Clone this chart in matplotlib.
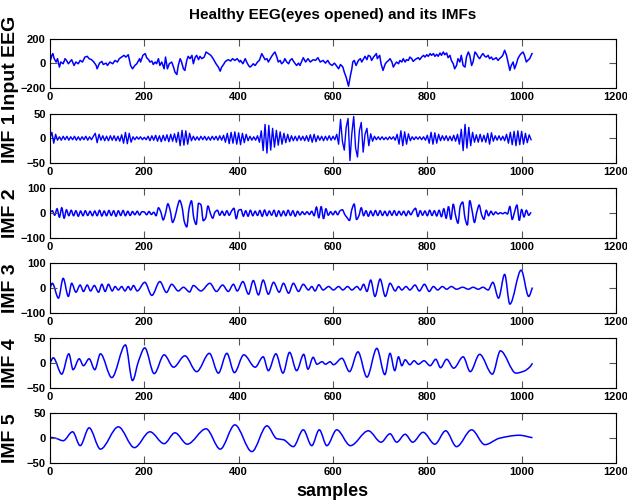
import numpy as np
import matplotlib
matplotlib.use("Agg")
import matplotlib.pyplot as plt
from matplotlib.path import Path
from matplotlib.patches import PathPatch

plt.rcParams['font.family'] = ['Liberation Sans', 'DejaVu Sans']
plt.rcParams['font.weight'] = 'bold'

# input EEG, (sample, amplitude)
eeg_points = [
    (0, 10), (4, 64), (6, 78), (9, 37), (13, 10), (16, 37), (20, -31), (23, 10), (28, -4), (32, 37),
    (35, 23), (39, -4), (42, 10), (46, 29), (51, -18), (55, 10), (60, -4), (64, 23), (69, 10), (74, 50),
    (79, 56), (83, 37), (88, 29), (93, 10), (98, -18), (100, -45), (105, 1), (110, 15), (113, -10), (119, 1),
    (122, -18), (127, 10), (133, -4), (138, 23), (143, 10), (147, 37), (152, 50), (157, 64), (161, 50), (166, 69),
    (171, -18), (175, -45), (180, -18), (184, -4), (190, 37), (192, 10), (197, 64), (202, 78), (205, 45), (209, 29),
    (212, 10), (216, 18), (219, -10), (223, 10), (226, -4), (230, 37), (233, -18), (237, 10), (242, -45), (245, 50),
    (249, -45), (253, -4), (258, 10), (262, -31), (265, -72), (269, -91), (272, -18), (276, 37), (279, 10), (283, -45),
    (286, -58), (290, 23), (293, 56), (297, 37), (301, 64), (304, -4), (308, 50), (311, 64), (315, 29), (318, 56),
    (322, 37), (327, 50), (331, 91), (336, 78), (341, 64), (346, 37), (352, -4), (357, -31), (361, -64), (364, -31),
    (368, -10), (371, 10), (375, 23), (378, 29), (383, 18), (387, 37), (392, 23), (397, 37), (402, 10), (404, 23),
    (409, -4), (414, 37), (417, 10), (421, -18), (424, -31), (428, -18), (431, -4), (435, -18), (440, 10), (444, 23),
    (449, 78), (453, 50), (456, 29), (460, 37), (463, 10), (467, 37), (470, 56), (474, 78), (477, 91), (481, 50),
    (484, 10), (488, 23), (491, -4), (495, 10), (498, 37), (502, 10), (506, -4), (509, 23), (513, 37), (516, 18),
    (520, -4), (523, -18), (527, 1), (530, -18), (537, 45), (542, 10), (547, 37), (552, 10), (558, 29), (563, 23),
    (568, 45), (573, 10), (579, 23), (584, 1), (589, 23), (593, -4), (598, -18), (603, 1), (607, -18), (612, -45),
    (616, -10), (621, -31), (624, -72), (628, -113), (633, -185), (637, -99), (640, -45), (642, 10), (645, 23), (649, -18),
    (654, 23), (658, 37), (661, 10), (665, 37), (668, 56), (672, 29), (675, 64), (679, 56), (682, 23), (686, 50),
    (692, 78), (694, 37), (699, 64), (702, -4), (706, -58), (711, -4), (714, 10), (718, 23), (721, 37), (725, 10),
    (728, -31), (732, -4), (735, 10), (739, -4), (742, 23), (746, 10), (749, 37), (753, 10), (756, 29), (760, 23),
    (763, 50), (767, 37), (770, 15), (774, 29), (777, 37), (781, 45), (784, 29), (788, 50), (792, 64), (795, 50),
    (799, 69), (802, 56), (806, 78), (809, 64), (813, 78), (816, 56), (820, 72), (823, 56), (827, 83), (830, 64),
    (834, 91), (837, 69), (841, 83), (844, 45), (848, 64), (851, 23), (855, -4), (858, -45), (862, -18), (865, 37),
    (869, 10), (872, 64), (876, -18), (880, -31), (883, 50), (887, 91), (890, 64), (894, -18), (897, 10), (901, 91),
    (904, 78), (908, 50), (911, 37), (915, 64), (918, 78), (922, 56), (925, 50), (929, 64), (932, 37), (936, 50),
    (939, 29), (943, 37), (946, 45), (950, 23), (953, 37), (957, 50), (960, 64), (964, 105), (968, 64), (971, 10),
    (975, -58), (978, -18), (982, 10), (985, -45), (989, -4), (992, 37), (996, 64), (999, 78), (1003, 91), (1006, 64),
    (1010, 10), (1013, 23), (1017, 37), (1022, 78),
]

# IMF 1, one value every 4 samples
imf1_step = 4
imf1 = [
    0, 12, -10, 8, -4, 3, -4, 4, -3, 4, -4, 3, -3, 4, -4, 3,
    -4, 3, -3, 4, -4, 3, -3, 4, 10, -9, 8, -4, 5, -5, 4, -5,
    5, -4, 5, -5, 4, -6, 7, -10, 12, -11, 10, -8, 3, -3, 3, -2,
    3, -3, 2, -3, 4, -5, 5, -4, 6, -6, 5, -7, 6, -5, 7, -7,
    8, -6, 9, -8, 12, -15, 16, -14, 15, -12, 10, -5, 4, -4, 3, -4,
    4, -3, 4, -4, 3, -4, 4, -3, 4, -4, 5, -4, 6, -8, 10, -11,
    12, -10, 13, -12, 11, -13, 10, -9, 8, -5, 4, -4, 3, -4, 5, -8,
    15, -25, 28, -30, 26, -24, 20, -18, 16, -14, 13, -12, 10, -9, 8, -7,
    5, -5, 4, -5, 5, -4, 4, -5, 5, -6, 7, -8, 8, -7, 5, -4,
    4, -5, 4, -4, 5, -4, 4, -3, 8, -12, 38, -6, -24, 22, 40, -45,
    10, 44, -20, -38, 15, 32, -28, 8, 20, -15, 9, -6, 4, -3, 3, -3,
    3, -3, 2, -3, 3, -2, 3, -4, 8, -12, 15, -15, 13, -12, 9, -5,
    3, -3, 3, -2, 3, -3, 3, -4, 6, -10, 12, -12, 11, -10, 8, -5,
    5, -4, 5, -5, 4, -5, 6, -6, 8, -12, 18, -25, 28, -20, 22, -15,
    12, -8, 7, -8, 8, -7, 6, -8, 10, -12, 11, -6, 5, -4, 5, -4,
    4, -5, 8, -10, 12, -13, 14, -15, 15, -13, 14, -12, 10, -9, 7, -3,
]

# IMF 2, one value every 5 samples
imf2_step = 5
imf2 = [
    3, 10, -8, 18, -16, 22, -20, 14, -10, 12, -10, 10, -12, 9, -10, 10, -9, 8, -10, 9,
    -10, 12, -11, 9, -10, 11, -9, 10, -12, 10, -9, 11, -10, 8, -9, 7, -6, 8, -7, 6,
    5, -6, 7, -5, 4, -10, 22, 5, -27, 0, 38, 10, -37, -15, 25, 52, 25, -35, -55, 20,
    50, -20, -45, 40, 35, -30, -20, 29, 0, -20, 5, 12, -8, 8, -9, 10, -8, 9, 20, -22,
    12, 15, -12, 10, -12, 12, -10, 8, -9, 11, -12, 13, -10, 9, -8, 12, -13, 10, -11, 9,
    -10, 12, -9, 10, -12, 8, -7, 6, -5, 6, -5, 8, -10, 25, -18, 27, -22, 18, -8, 6,
    -6, 8, -6, 10, 14, -5, -18, -29, 15, 37, -25, -10, 22, -10, 10, -12, 9, -10, 11, -9,
    10, -9, 8, -10, 9, -8, 10, -9, 8, -7, 8, -10, 9, -6, 10, 20, -13, 10, -8, 9,
    -10, 12, -9, 10, -11, 12, -14, 18, -20, 27, -25, 37, -10, -40, 30, 45, -20, -47, 51, 10,
    -37, 5, 33, -5, -24, 12, -10, 8, -6, 5, -3, 2, -2, 3, -3, 27, -25, 5, 33, -29,
    15, -15, 12, -8, 4,
]

# IMF 3 turning points (sample, amplitude)
imf3_points = [
    (0, 0), (5, 20), (18, -40), (28, 40), (39, -33), (46, 20), (55, -16), (64, 13), (71, -13), (79, 13),
    (86, -11), (94, 11), (103, -16), (110, 16), (117, -13), (124, 16), (132, -11), (138, 7), (145, -7), (152, 7),
    (159, -11), (166, 7), (171, -7), (177, 11), (185, -11), (201, 24), (216, -29), (233, 27), (247, -17), (258, 16),
    (272, -11), (283, 4), (296, -15), (304, 11), (320, -11), (339, 20), (353, -13), (366, 13), (378, -13), (389, 16),
    (397, -11), (409, 27), (421, -24), (431, 31), (442, -27), (452, 33), (463, -24), (474, 24), (486, -16), (495, 20),
    (506, -20), (516, 20), (527, -13), (537, 16), (548, -7), (555, 7), (562, -11), (570, 14), (579, -7), (591, 7),
    (601, -7), (612, 7), (621, -7), (631, 7), (640, -7), (651, 7), (658, -7), (665, 16), (672, -13), (680, 33),
    (689, -33), (700, 37), (711, -33), (721, 20), (732, -11), (739, 7), (746, -7), (755, 7), (763, -7), (774, 13),
    (783, -11), (794, 16), (804, -13), (813, 7), (822, -7), (832, 7), (841, -4), (851, 7), (862, -4), (875, 4),
    (887, -4), (897, 4), (908, -4), (918, 4), (929, -7), (939, 24), (951, -40), (964, 56), (975, -64), (999, 73),
    (1015, -33), (1023, 3),
]

# IMF 4 turning points
imf4_points = [
    (0, 0), (7, 11), (25, -22), (40, 19), (49, -13), (62, 9), (71, -5), (83, 9), (95, -13), (107, 19),
    (131, -29), (160, 37), (175, -35), (188, 5), (201, 31), (221, -21), (242, 17), (262, -8), (286, 15), (311, -17),
    (338, 20), (357, -20), (375, 20), (391, -19), (411, 17), (435, -8), (452, 13), (463, -15), (479, 19), (494, -20),
    (508, 22), (523, -15), (538, 18), (547, -12), (558, 12), (566, -2), (577, 3), (584, -2), (594, 3), (601, -3),
    (619, 10), (635, -17), (653, 23), (672, -28), (693, 30), (710, -23), (721, 20), (731, -15), (739, 13), (746, -5),
    (753, 7), (763, -3), (772, 5), (781, -2), (793, 5), (806, -5), (818, 8), (828, -9), (841, 8), (856, -10),
    (876, 13), (891, -17), (911, 18), (938, -22), (955, 25), (988, -20), (1005, -16), (1017, -8), (1023, 0),
]

# IMF 5 turning points
imf5_points = [
    (0, 2), (12, 0), (28, -5), (48, 13), (64, -15), (83, 21), (107, -22), (145, 23), (179, -19), (212, 13),
    (242, -11), (265, 11), (291, -12), (331, 19), (361, -22), (392, 27), (428, -27), (460, 25), (481, -1), (495, -3),
    (516, -17), (537, 17), (555, -15), (571, 17), (587, -15), (608, 17), (637, -15), (675, 15), (702, -8), (721, 9),
    (735, -8), (753, 8), (769, -8), (791, 12), (816, -12), (839, 15), (862, -17), (894, 17), (922, -13), (953, 0),
    (995, 6), (1023, 1),
]

panel_names = ['Input EEG', 'IMF 1', 'IMF 2', 'IMF 3', 'IMF 4', 'IMF 5']
panel_limits = [200, 50, 100, 100, 50, 50]

blue = '#0000ff'


def draw_smooth(ax, pts, **kw):
    # monotone cubic through the turning points, drawn as bezier segments
    x, y = np.asarray(pts, float).T
    h = np.diff(x)
    d = np.diff(y) / h
    m = np.zeros_like(y)
    same = d[:-1] * d[1:] > 0
    a, b = d[:-1][same], d[1:][same]
    m[1:-1][same] = 2 * a * b / (a + b)
    m[0], m[-1] = d[0], d[-1]
    verts = [(x[0], y[0])]
    for i in range(len(h)):
        verts += [(x[i] + h[i] / 3, y[i] + m[i] * h[i] / 3),
                  (x[i + 1] - h[i] / 3, y[i + 1] - m[i + 1] * h[i] / 3),
                  (x[i + 1], y[i + 1])]
    codes = [Path.MOVETO] + [Path.CURVE4] * (3 * len(h))
    ax.add_patch(PathPatch(Path(verts, codes), fill=False, **kw))


fig = plt.figure(figsize=(6.27, 5.04), dpi=100)
axes = []
for i in range(6):
    bottom = 0.8254 - i * 0.1488
    axes.append(fig.add_axes([0.0797, bottom, 0.9027, 0.0982]))

eeg_x, eeg_y = np.array(eeg_points).T
axes[0].plot(eeg_x, eeg_y, color=blue, lw=1.1)
axes[1].plot(np.arange(len(imf1)) * imf1_step, imf1, color=blue, lw=1.0)
draw_smooth(axes[2], list(zip(np.arange(len(imf2)) * imf2_step, imf2)), edgecolor=blue, lw=1.1)
draw_smooth(axes[3], imf3_points, edgecolor=blue, lw=1.1)
draw_smooth(axes[4], imf4_points, edgecolor=blue, lw=1.1)
draw_smooth(axes[5], imf5_points, edgecolor=blue, lw=1.1)

for ax, name, lim in zip(axes, panel_names, panel_limits):
    ax.set_xlim(0, 1200)
    ax.set_ylim(-lim, lim)
    ax.set_xticks(range(0, 1201, 200))
    ax.set_yticks([-lim, 0, lim])
    ax.tick_params(direction='in', top=True, right=True, length=5, width=0.8,
                   color='#555555', labelsize=8, pad=3)
    for lab in ax.get_xticklabels() + ax.get_yticklabels():
        lab.set_fontweight('bold')
    for sp in ax.spines.values():
        sp.set_linewidth(0.8)
    ax.set_ylabel(name, fontsize=14, fontweight='bold')
    # anchor sits on the right side of the rotated label
    ax.yaxis.set_label_coords(-0.054, 0.5)

fig.text(0.531, 0.970, 'Healthy EEG(eyes opened) and its IMFs', ha='center', va='center',
         fontsize=11, fontweight='bold')
fig.text(0.531, 0.024, 'samples', ha='center', va='center', fontsize=13, fontweight='bold')

fig.savefig('out.png', dpi=100)
